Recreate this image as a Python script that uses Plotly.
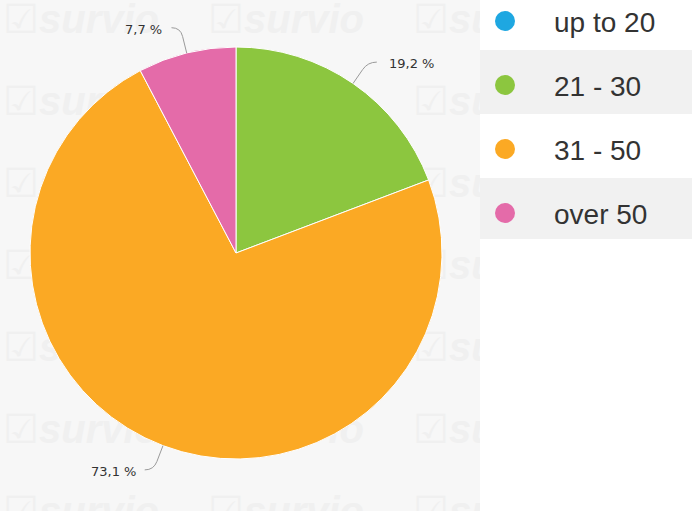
import math
import plotly.graph_objects as go

# ---- data ----
categories = ["up to 20", "21 - 30", "31 - 50", "over 50"]
counts = [0, 5, 19, 2]
colors = ["#1ea7e1", "#8cc63f", "#fba924", "#e46ba9"]

W, H = 692, 511
CX, CY, R = 236, 253, 206          # pie centre / radius in pixels
PANEL_W = 480

fig = go.Figure()

# watermark (behind the pie)
wm_x, wm_y, wm_t = [], [], []
for row in range(7):
    for col in range(3):
        wm_x.append(3 + col * 205)
        wm_y.append(23 + row * 82)
        wm_t.append("☑<b><i>survio</i></b>")
fig.add_trace(go.Scatter(
    x=wm_x, y=wm_y, text=wm_t, mode="text", textposition="middle right",
    textfont=dict(family="Liberation Sans, Arial", size=40, color="#f0f0f0"),
    hoverinfo="skip", showlegend=False, cliponaxis=True))

fig.add_trace(go.Pie(
    labels=categories, values=counts, sort=False, direction="clockwise",
    rotation=0, marker=dict(colors=colors, line=dict(color="white", width=1)),
    textinfo="none", hoverinfo="skip", showlegend=False,
    domain=dict(x=[(CX - R) / W, (CX + R) / W],
                y=[1 - (CY + R) / H, 1 - (CY - R) / H])))

shapes = [dict(type="rect", layer="below", x0=0, x1=PANEL_W, y0=0, y1=H,
               fillcolor="#f7f7f7", line=dict(width=0))]
annotations = []

# slice labels with connectors
total = sum(counts)
cum = 0
for cat, v in zip(categories, counts):
    if v == 0:
        cum += v
        continue
    mid = (cum + v / 2) / total * 2 * math.pi
    cum += v
    dx, dy = math.sin(mid), -math.cos(mid)
    p0 = (CX + R * dx, CY + R * dy)
    pa = (CX + (R + 17) * dx, CY + (R + 17) * dy)
    p1 = (CX + (R + 26) * dx, CY + (R + 26) * dy)
    side = 1 if dx >= 0 else -1
    p2 = (p1[0] + side * 9, p1[1])
    path = (f"M {p0[0]:.1f},{p0[1]:.1f} L {pa[0]:.1f},{pa[1]:.1f} "
            f"Q {p1[0]:.1f},{p1[1]:.1f} {p2[0]:.1f},{p2[1]:.1f}")
    shapes.append(dict(type="path", path=path, xref="x", yref="y",
                       line=dict(color="#9a9a9a", width=1), layer="above"))
    pct = f"{v / total * 100:.1f}".replace(".", ",") + " %"
    annotations.append(dict(
        x=p2[0] + side * (10 if side > 0 else 7), y=p2[1] + 1.5, xref="x", yref="y",
        text=pct, showarrow=False, xanchor="left" if side > 0 else "right",
        yanchor="middle", font=dict(family="DejaVu Sans", size=13, color="#333333")))

# legend panel
shapes.append(dict(type="rect", layer="above", x0=PANEL_W, x1=W, y0=0, y1=H,
                   fillcolor="white", line=dict(width=0)))
bounds = [-14, 50, 114, 178, 239]
for i, (cat, col) in enumerate(zip(categories, colors)):
    yc = 21 + 64 * i
    if i % 2 == 1:
        shapes.append(dict(type="rect", layer="above", x0=PANEL_W, x1=W,
                           y0=bounds[i], y1=bounds[i + 1],
                           fillcolor="#f1f1f1", line=dict(width=0)))
    shapes.append(dict(type="circle", layer="above", x0=495, x1=515,
                       y0=yc - 10, y1=yc + 10, fillcolor=col, line=dict(width=0)))
    annotations.append(dict(x=552, y=yc + 1, xref="x", yref="y", text=cat,
                            showarrow=False, xanchor="left", yanchor="middle",
                            font=dict(family="Liberation Sans, Arial", size=28,
                                      color="#333333")))

fig.update_layout(
    width=W, height=H, margin=dict(l=0, r=0, t=0, b=0),
    paper_bgcolor="white", plot_bgcolor="white",
    xaxis=dict(range=[0, W], visible=False, fixedrange=True),
    yaxis=dict(range=[H, 0], visible=False, fixedrange=True),
    shapes=shapes, annotations=annotations, showlegend=False)

fig.write_html("out.html", config={"displayModeBar": False},
               post_script="document.body.style.margin='0';")
